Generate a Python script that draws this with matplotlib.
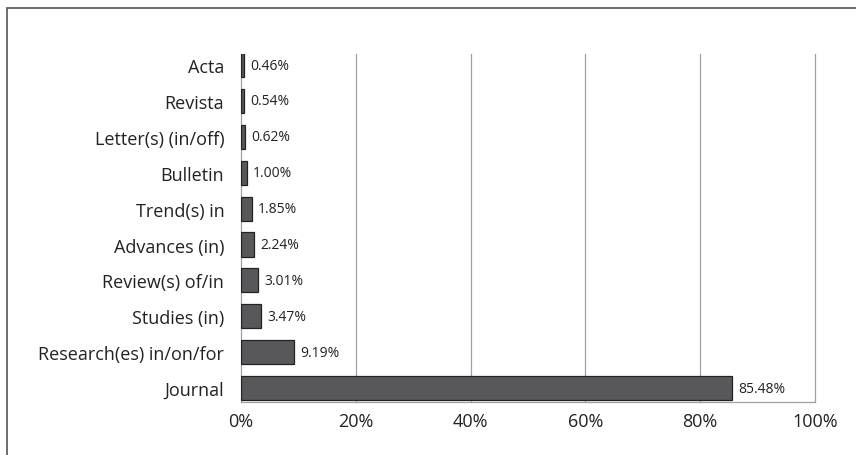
import matplotlib.pyplot as plt
from matplotlib.patches import Rectangle
from matplotlib.ticker import FuncFormatter

plt.rcParams['font.family'] = ['Open Sans', 'DejaVu Sans']

categories = ["Journal", "Research(es) in/on/for", "Studies (in)", "Review(s) of/in",
              "Advances (in)", "Trend(s) in", "Bulletin", "Letter(s) (in/off)",
              "Revista", "Acta"]
shares = [85.48, 9.19, 3.47, 3.01, 2.24, 1.85, 1.00, 0.62, 0.54, 0.46]
xticks = [0, 20, 40, 60, 80, 100]

fig = plt.figure(figsize=(8.56, 4.56), dpi=100)
# outer frame (cut off at right and bottom as in the source)
fig.patches.append(Rectangle((7/856, -0.1), 1.2, 1 - 9/456 + 0.1, transform=fig.transFigure,
                             fill=False, edgecolor='#555555', linewidth=1.2))

ax = fig.add_axes([241/856, 53/456, (815-241)/856, (403-55)/456])
ypos = list(range(len(categories)))
ax.barh(ypos, shares, height=0.67, color='#58585a', edgecolor='#222222', linewidth=0.9, zorder=3)

for y, v in zip(ypos, shares):
    ax.text(v + 1.1, y, f"{v:.2f}%", va='center', ha='left', fontsize=10, color='#222222')

ax.set_xlim(0, 100)
ax.set_ylim(-0.39, 9.31)
ax.set_xticks(xticks)
ax.xaxis.set_major_formatter(FuncFormatter(lambda v, p: f"{v:.0f}%"))
ax.set_yticks(ypos)
ax.set_yticklabels(categories)
ax.tick_params(axis='both', length=0, labelsize=13, colors='#222222')
ax.tick_params(axis='y', pad=12)
ax.tick_params(axis='x', pad=7)
ax.grid(axis='x', color='#a0a0a0', linewidth=0.9, zorder=0)
for gl in ax.get_xgridlines():
    gl.set_clip_on(False)
for s in ['top', 'left', 'right']:
    ax.spines[s].set_visible(False)
ax.spines['bottom'].set_color('#a0a0a0')
ax.spines['bottom'].set_linewidth(0.9)

fig.savefig('out.png', dpi=100)
